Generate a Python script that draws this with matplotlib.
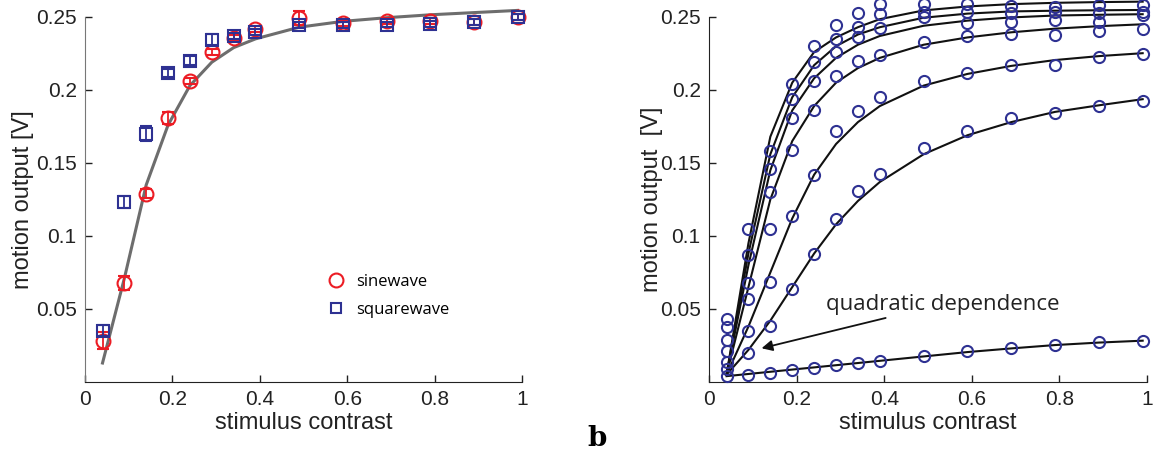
import numpy as np
import matplotlib
matplotlib.use('Agg')
import matplotlib.pyplot as plt

plt.rcParams['font.family'] = ['Liberation Sans', 'DejaVu Sans']

# 대비 값 (x축)
contrast = [0.04, 0.09, 0.14, 0.19, 0.24, 0.29, 0.34, 0.39, 0.49, 0.59, 0.69, 0.79, 0.89, 0.99]

# 왼쪽 패널: sinewave / squarewave 측정값과 오차
sine_y = [0.0284, 0.0678, 0.129, 0.1807, 0.2059, 0.2262, 0.2356, 0.2418, 0.2494, 0.246, 0.2475, 0.2475, 0.2464, 0.2499]
sine_err = [0.006, 0.005, 0.003, 0.004, 0.002, 0.002, 0.002, 0.002, 0.005, 0.002, 0.002, 0.002, 0.002, 0.002]
square_y = [0.0352, 0.1232, 0.170, 0.2116, 0.220, 0.2345, 0.2372, 0.2395, 0.2446, 0.2446, 0.2448, 0.2453, 0.2464, 0.2499]
square_err = [0.004, 0.004, 0.005, 0.003, 0.003, 0.004, 0.002, 0.002, 0.002, 0.002, 0.002, 0.002, 0.002, 0.002]
# 회색 모델 곡선
model_y = [0.013, 0.071, 0.135, 0.176, 0.203, 0.219, 0.229, 0.235, 0.243, 0.247, 0.2495, 0.2515, 0.253, 0.2545]

# 오른쪽 패널: 7개 계열 (측정 원, 맞춤 곡선)
s1 = [0.043, 0.105, 0.1585, 0.204, 0.230, 0.2445, 0.253, 0.259, 0.259, 0.259, 0.2576, 0.2571, 0.2582, 0.2582]
s2 = [0.038, 0.087, 0.146, 0.194, 0.219, 0.2348, 0.2434, 0.252, 0.2536, 0.2536, 0.253, 0.2537, 0.253, 0.2537]
s3 = [0.029, 0.068, 0.130, 0.181, 0.206, 0.2263, 0.2361, 0.2423, 0.2502, 0.2461, 0.2468, 0.248, 0.2468, 0.2514]
s4 = [0.021, 0.057, 0.1046, 0.159, 0.186, 0.2096, 0.2201, 0.224, 0.2331, 0.237, 0.2382, 0.2377, 0.2406, 0.2416]
s5 = [0.014, 0.035, 0.0687, 0.114, 0.142, 0.1719, 0.1858, 0.1954, 0.2062, 0.2119, 0.2172, 0.2172, 0.2228, 0.2245]
s6 = [0.009, 0.020, 0.0384, 0.064, 0.088, 0.1114, 0.131, 0.1425, 0.160, 0.1722, 0.1806, 0.1841, 0.1891, 0.1927]
s7 = [0.004, 0.005, 0.0064, 0.008, 0.0094, 0.0116, 0.0132, 0.0146, 0.018, 0.0212, 0.0235, 0.0253, 0.0272, 0.0283]

f1 = [0.005, 0.095, 0.168, 0.205, 0.226, 0.236, 0.243, 0.2485, 0.2545, 0.2572, 0.2588, 0.2597, 0.2602, 0.2605]
f2 = [0.005, 0.088, 0.156, 0.195, 0.217, 0.230, 0.238, 0.243, 0.2495, 0.2523, 0.2538, 0.2543, 0.2546, 0.2548]
f3 = [0.005, 0.080, 0.145, 0.186, 0.208, 0.222, 0.231, 0.237, 0.244, 0.2475, 0.2497, 0.251, 0.2515, 0.2519]
f4 = [0.005, 0.065, 0.125, 0.165, 0.189, 0.205, 0.215, 0.222, 0.231, 0.236, 0.2395, 0.242, 0.2437, 0.245]
f5 = [0.005, 0.038, 0.075, 0.112, 0.142, 0.163, 0.178, 0.189, 0.203, 0.211, 0.2165, 0.2205, 0.2232, 0.2252]
f6 = [0.005, 0.022, 0.042, 0.065, 0.088, 0.108, 0.124, 0.137, 0.156, 0.169, 0.178, 0.185, 0.1895, 0.1937]
f7 = [0.004, 0.0055, 0.007, 0.0085, 0.010, 0.0115, 0.013, 0.0145, 0.0175, 0.0205, 0.023, 0.0253, 0.027, 0.0283]

xticks = [0, 0.2, 0.4, 0.6, 0.8, 1]
xtick_labels = ['0', '0.2', '0.4', '0.6', '0.8', '1']
yticks = [0.05, 0.1, 0.15, 0.2, 0.25]
ytick_labels = ['0.05', '0.1', '0.15', '0.2', '0.25']

red = '#ec1c24'
blue = '#2e3192'

fig = plt.figure(figsize=(11.57, 4.54), dpi=100)
ax1 = fig.add_axes([0.0735, 0.1586, 0.3777, 0.804])
ax2 = fig.add_axes([0.6128, 0.1586, 0.3786, 0.804])


def style_axes(ax, left_color, ylabel, ypad):
    ax.set_xlim(0, 1)
    ax.set_ylim(0, 0.25)
    ax.set_xticks(xticks)
    ax.set_xticklabels(xtick_labels)
    ax.set_yticks(yticks)
    ax.set_yticklabels(ytick_labels)
    ax.spines['top'].set_visible(False)
    ax.spines['right'].set_visible(False)
    ax.spines['left'].set_color(left_color)
    ax.spines['bottom'].set_color('#222222')
    ax.tick_params(direction='in', length=5, width=1, labelsize=15, colors='#222222', pad=6)
    ax.set_xlabel('stimulus contrast', fontsize=17, color='#222222', labelpad=2)
    ax.set_ylabel(ylabel, fontsize=17, color='#222222', labelpad=ypad)


# 왼쪽 패널
style_axes(ax1, '#777777', 'motion output [V]', 1)
ax1.plot(contrast, model_y, color='#6d6d6d', lw=2.2, zorder=1, clip_on=False)
ax1.errorbar(contrast, sine_y, yerr=sine_err, fmt='o', mfc='none', mec=red, ecolor=red,
             ms=10, mew=1.5, capsize=4, elinewidth=1.3, zorder=3, clip_on=False)
ax1.errorbar(contrast, square_y, yerr=square_err, fmt='s', mfc='none', mec=blue, ecolor=blue,
             ms=8, mew=1.5, capsize=4, elinewidth=1.3, zorder=4, clip_on=False)

h1 = ax1.plot([], [], 'o', mfc='none', mec=red, ms=10, mew=1.5)[0]
h2 = ax1.plot([], [], 's', mfc='none', mec=blue, ms=7.5, mew=1.5)[0]
ax1.legend([h1, h2], ['sinewave', 'squarewave'], loc='upper left', bbox_to_anchor=(0.535, 0.318),
           frameon=False, handlelength=1.0, handletextpad=0.75, labelspacing=0.7,
           borderpad=0, prop={'family': ['Open Sans', 'DejaVu Sans'], 'size': 12})

# 오른쪽 패널
style_axes(ax2, '#222222', 'motion output  [V]', -2)
for s, f in [(s1, f1), (s2, f2), (s3, f3), (s4, f4), (s5, f5), (s6, f6), (s7, f7)]:
    ax2.plot(contrast, f, color='#111111', lw=1.5, zorder=2, clip_on=False)
    ax2.plot(contrast, s, 'o', mfc='none', mec=blue, ms=8, mew=1.5, zorder=3, clip_on=False)

ax2.annotate('quadratic dependence', xy=(0.120, 0.0231), xytext=(0.267, 0.0534),
             fontsize=16, family=['Open Sans', 'DejaVu Sans'], color='#222222', va='center',
             arrowprops=dict(arrowstyle='-|>', color='#111111', lw=1.3, mutation_scale=16,
                             shrinkA=2, shrinkB=0))

fig.text(0.516, 0.018, 'b', fontsize=20, fontweight='bold', family=['DejaVu Serif'], ha='center')

fig.savefig('out.png', dpi=100)
